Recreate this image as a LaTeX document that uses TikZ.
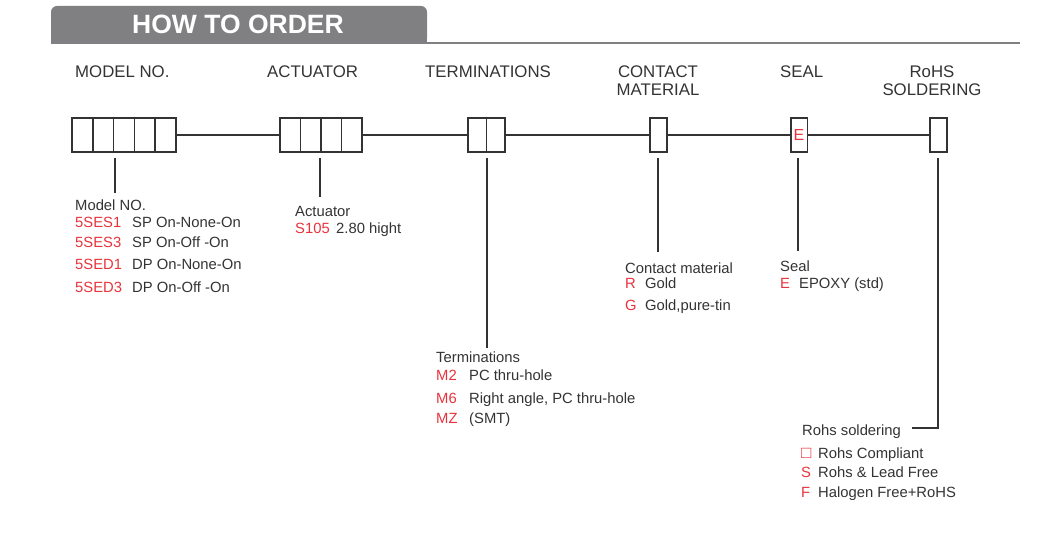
\documentclass[tikz,border=0pt]{standalone}
\usepackage{fontspec}
\setmainfont{Liberation Sans}
\definecolor{codered}{HTML}{E8333C}
\definecolor{ink}{HTML}{333333}
\definecolor{tabgray}{HTML}{808082}
\begin{document}
\begin{tikzpicture}[x=1pt,y=-1pt,
	slot/.style={draw=ink,line width=1.5pt,minimum height=34pt,inner sep=0pt},
	wire/.style={draw=ink,line width=1.2pt},
	head/.style={font=\fontsize{16.8}{19}\selectfont,text=ink,inner sep=0pt,anchor=base},
	txt/.style={font=\fontsize{14.8}{17}\selectfont,text=ink,inner sep=0pt,anchor=base west},
	code/.style={txt,text=codered}]
		\useasboundingbox (0,0) rectangle (1050,556);
		% title tab
		\fill[tabgray,rounded corners=6pt] (51,6) rectangle (427,44);
		\fill[tabgray] (51,25) rectangle (427,44);
		\draw[tabgray,line width=2pt] (427,43) to (1020,43);
		\node[inner sep=0pt,anchor=base,text=white,font=\fontsize{26.5}{30}\selectfont\bfseries] (title) at (238,34) {HOW TO ORDER};
		% column heads
		\node[head,anchor=base west] (hmodel) at (75,78) {MODEL NO.};
		\node[head,anchor=base west] (hact) at (267,78) {ACTUATOR};
		\node[head,anchor=base west] (hterm) at (425,78) {TERMINATIONS};
		\node[head] (hcon) at (658,78) {CONTACT};
		\node[head] (hmat) at (658,96) {MATERIAL};
		\node[head,anchor=base west] (hseal) at (780,78) {SEAL};
		\node[head] (hrohs) at (932,78) {RoHS};
		\node[head] (hsold) at (932,96) {SOLDERING};
		% code boxes
		\foreach \i in {1,...,5}
			\node[slot,minimum width=20.8pt] (m\i) at ({72+20.8*(\i-0.5)},135) {};
		\foreach \i in {1,...,4}
			\node[slot,minimum width=20.5pt] (a\i) at ({280+20.5*(\i-0.5)},135) {};
		\foreach \i in {1,2}
			\node[slot,minimum width=18.5pt] (t\i) at ({468+18.5*(\i-0.5)},135) {};
		\node[slot,minimum width=17pt] (c1) at (658.5,135) {};
		\node[slot,minimum width=16.5pt,text=codered,font=\fontsize{16}{17}\selectfont] (s1) at (799,135) {E};
		\node[slot,minimum width=17pt] (r1) at (938.5,135) {};
		\draw[wire] (m5.east) to (a1.west);
		\draw[wire] (a4.east) to (t1.west);
		\draw[wire] (t2.east) to (c1.west);
		\draw[wire] (c1.east) to (s1.west);
		\draw[wire] (s1.east) to (r1.west);
		% drop lines
		\foreach \n/\x/\yb in {m/115/193,a/320/197,t/487/348,c/658/252,s/798/251}{
			\coordinate (\n top) at (\x,158);
			\coordinate (\n end) at (\x,\yb);
			\draw[wire] (\n top) to (\n end);
		}
		\coordinate (r top) at (938,158);
		\coordinate (r bend) at (938,428);
		\coordinate (r end) at (912,428);
		\draw[wire] (r top) to (r bend) to (r end);
		% model
		\node[txt] (lmodel) at (75,211) {Model NO.};
		\foreach \y/\c/\d in {228/5SES1/SP On-None-On,248/5SES3/SP On-Off -On,270/5SED1/DP On-None-On,292/5SED3/DP On-Off -On}{
			\node[code] (mc\y) at (75,\y) {\c};
			\node[txt] (md\y) at (132,\y) {\d};
		}
		% actuator
		\node[txt] (lact) at (295,217) {Actuator};
		\node[code] (ac1) at (295,234) {S105};
		\node[txt] (ad1) at (336,234) {2.80 hight};
		% terminations
		\node[txt] (lterm) at (436,362) {Terminations};
		\foreach \y/\c/\d in {380/M2/PC thru-hole,403/M6/{Right angle, PC thru-hole},423/MZ/(SMT)}{
			\node[code] (tc\y) at (436,\y) {\c};
			\node[txt] (td\y) at (469,\y) {\d};
		}
		% contact material
		\node[txt] (lcon) at (625,273) {Contact material};
		\node[code] (cc1) at (625,289) {R};
		\node[txt] (cd1) at (645,289) {Gold};
		\node[code] (cc2) at (625,310) {G};
		\node[txt] (cd2) at (645,310) {Gold,pure-tin};
		% seal
		\node[txt] (lseal) at (780,272) {Seal};
		\node[code] (sc1) at (780,288) {E};
		\node[txt] (sd1) at (799,288) {EPOXY (std)};
		% rohs soldering
		\node[txt] (lrohs) at (802,435) {Rohs soldering};
		\node[code,font=\fontsize{17}{17}\selectfont] (rc1) at (801,458) {\textcolor{codered}{□}};
		\node[txt] (rd1) at (818,458) {Rohs Compliant};
		\foreach \y/\c/\d in {477/S/Rohs \& Lead Free,497/F/Halogen Free+RoHS}{
			\node[code] (rc\y) at (801,\y) {\c};
			\node[txt] (rd\y) at (818,\y) {\d};
		}
\end{tikzpicture}
\end{document}
